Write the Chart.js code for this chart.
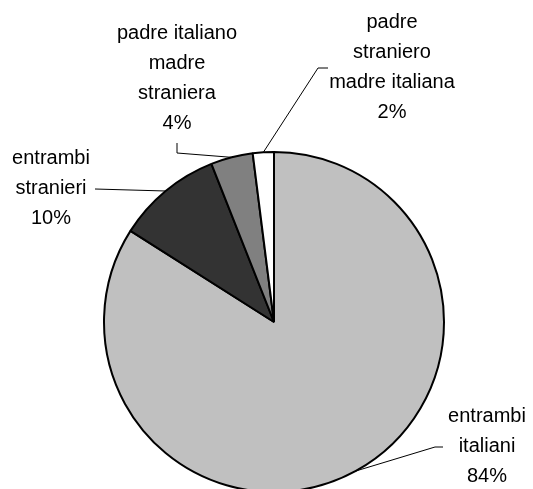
<!DOCTYPE html>
<html>
<head>
<meta charset="utf-8">
<script src="https://cdn.jsdelivr.net/npm/chart.js@4/dist/chart.umd.min.js"></script>
<style>
  html, body { margin: 0; padding: 0; background: #fff; }
</style>
</head>
<body>
<canvas id="pie" width="533" height="489"></canvas>
<script>
var categories = ['entrambi italiani', 'entrambi stranieri', 'padre italiano madre straniera', 'padre straniero madre italiana'];
var categoryLines = [['entrambi', 'italiani'], ['entrambi', 'stranieri'], ['padre italiano', 'madre', 'straniera'], ['padre', 'straniero', 'madre italiana']];
var shares = [84, 10, 4, 2];
var sliceColors = ['#c0c0c0', '#333333', '#808080', '#ffffff'];

// where each label block sits (centre x, first line y) and where its leader bends
var labelSpots = [
  {x: 487, y: 416, bend: [[435, 447], [443, 447]]},
  {x: 51, y: 158, bend: [[95, 189]]},
  {x: 177, y: 33, bend: [[177, 153], [177, 143]]},
  {x: 392, y: 22, bend: [[318, 68], [328, 68]]}
];

var pieLabels = {
  id: 'pieLabels',
  afterDatasetsDraw: function(chart) {
    var ctx = chart.ctx;
    var arcs = chart.getDatasetMeta(0).data;
    ctx.save();
    ctx.strokeStyle = '#000';
    ctx.lineWidth = 1;
    arcs.forEach(function(arc, i) {
      var p = arc.getProps(['x', 'y', 'startAngle', 'endAngle', 'outerRadius'], true);
      var mid = (p.startAngle + p.endAngle) / 2;
      var sx = p.x + Math.cos(mid) * p.outerRadius;
      var sy = p.y + Math.sin(mid) * p.outerRadius;
      var spot = labelSpots[i];
      ctx.beginPath();
      ctx.moveTo(sx, sy);
      spot.bend.forEach(function(pt) { ctx.lineTo(pt[0], pt[1]); });
      ctx.stroke();

      var lines = categoryLines[i].concat([shares[i] + '%']);
      ctx.fillStyle = '#000';
      ctx.font = '20px "Liberation Sans", Arial, sans-serif';
      ctx.textAlign = 'center';
      ctx.textBaseline = 'middle';
      lines.forEach(function(t, k) {
        ctx.fillText(t, spot.x, spot.y + k * 30);
      });
    });
    ctx.restore();
  }
};

new Chart(document.getElementById('pie'), {
  type: 'pie',
  data: {
    labels: categories,
    datasets: [{
      data: shares,
      backgroundColor: sliceColors,
      borderColor: '#000',
      borderWidth: 2,
      radius: 170,
      clip: false
    }]
  },
  options: {
    responsive: false,
    animation: false,
    layout: { padding: { left: 15, right: 0, top: 155, bottom: 0 } },
    plugins: {
      legend: { display: false },
      tooltip: { enabled: false }
    }
  },
  plugins: [pieLabels]
});
</script>
</body>
</html>
